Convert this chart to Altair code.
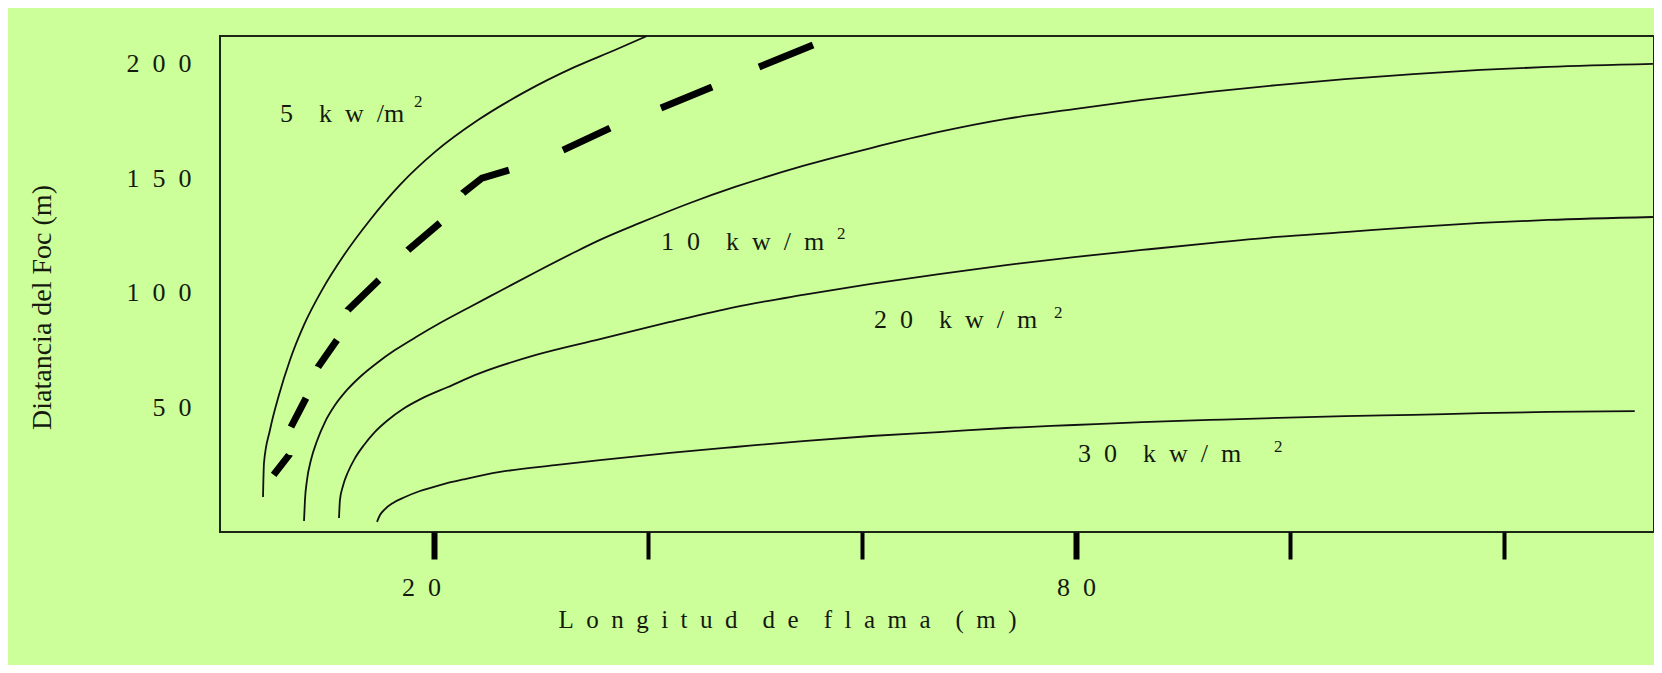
import altair as alt
import pandas as pd

# ---- curve data (x: Longitud de flama, y: Distancia del foc) ----
x5 = [4.02, 4.11, 4.67, 5.51, 6.54, 7.85, 9.53, 11.59, 14.02, 16.82, 20.09, 24.11, 28.50, 33.17, 36.91, 39.90]
y5 = [10.8, 25.6, 40.0, 55.3, 70.6, 85.9, 101.1, 116.4, 131.7, 147.0, 161.4, 175.3, 187.6, 198.5, 205.9, 212.0]

x10 = [7.85, 7.94, 8.13, 8.50, 9.06, 9.81, 10.75, 11.87, 13.18, 14.67, 16.35, 18.32, 20.56, 23.18, 26.17,
       29.53, 33.17, 35.51, 39.25, 43.92, 48.13, 54.48, 60.84, 67.19, 73.45, 79.81, 86.16, 92.52, 98.78,
       105.1, 111.5, 117.8, 124.1, 133.9]
y10 = [0.3, 9.5, 18.2, 26.9, 35.2, 43.5, 50.9, 57.5, 63.6, 69.3, 74.9, 80.6, 86.7, 93.3, 100.7,
       109.0, 117.7, 123.0, 130.4, 139.1, 146.1, 155.3, 163.1, 170.1, 175.8, 180.1, 184.1, 187.6, 190.6,
       193.2, 195.4, 197.2, 198.5, 199.8]

x20 = [11.12, 11.21, 11.49, 11.96, 12.62, 13.46, 14.48, 15.70, 17.10, 18.78, 21.31, 24.11, 29.53, 35.51,
       42.05, 48.13, 54.48, 60.84, 67.19, 73.45, 79.81, 86.16, 92.52, 98.78, 105.1, 111.5, 117.8, 124.1, 133.9]
y20 = [1.6, 9.5, 15.6, 21.7, 27.8, 33.5, 39.2, 44.4, 49.2, 53.6, 58.8, 64.5, 72.8, 79.7,
       87.2, 93.7, 99.0, 103.8, 108.1, 112.0, 115.5, 118.6, 121.6, 124.3, 126.4, 128.6, 130.4, 131.7, 133.0]

x30 = [14.67, 14.95, 15.42, 16.17, 17.29, 18.69, 20.56, 22.90, 26.17, 31.31, 35.51, 42.05, 48.13, 54.48,
       60.84, 67.19, 73.45, 79.81, 86.16, 92.52, 98.78, 105.1, 111.5, 117.8, 124.1, 132.2]
y30 = [-0.1, 2.9, 5.5, 8.2, 10.8, 13.4, 16.0, 18.6, 21.7, 24.7, 26.9, 30.0, 32.6, 35.2,
       37.4, 39.1, 40.9, 42.2, 43.5, 44.4, 45.3, 46.1, 46.6, 47.4, 47.9, 48.3]

# thick dashed curve: points at each dash end, and the dash / gap lengths seen on the picture
xdash = [5.01, 6.45, 6.63, 8.04, 9.16, 10.93, 11.96, 14.86, 17.57, 20.56, 22.71, 24.48, 27.01,
         32.05, 36.45, 41.21, 45.98, 50.37, 55.42]
ydash = [20.4, 29.1, 41.3, 54.0, 67.5, 79.3, 92.4, 105.5, 118.6, 130.4, 143.5, 150.0, 153.5,
         162.2, 171.8, 180.6, 189.7, 198.5, 208.1]
dash_pattern = [25.2, 28.1, 32.6, 33.2, 33.0, 32.0, 43.1, 41.7, 41.9, 37.8, 52.4, 57.6,
                51.9, 54.8, 55.2, 51.1, 58.3, 200]

# ---- curve labels ----
E = "\u2002"
label_text = ["5" + E + E + "k" + E + "w" + E + "/m",
              "1" + E + "0" + E + E + "k" + E + "w" + E + "/" + E + "m",
              "2" + E + "0" + E + E + "k" + E + "w" + E + "/" + E + "m",
              "3" + E + "0" + E + E + "k" + E + "w" + E + "/" + E + "m"]
label_x = [5.61, 41.21, 61.12, 80.18]
label_y = [174.5, 118.6, 84.5, 26.1]
sup_x = [18.13, 57.66, 77.94, 98.50]
sup_y = [181.0, 123.4, 88.9, 30.4]

x_ticks = [20, 40, 60, 80, 100, 120]
y_ticks = [50, 100, 150, 200]
x_title = (E.join("Longitud") + E * 2 + E.join("de") + E * 2 + E.join("flama") + E * 2 + E.join("(m)"))
y_title = "Diatancia del Foc (m)"

FONT = "Liberation Serif"
INK = "#141a0e"

rows = []
for name, xs, ys in [("5", x5, y5), ("10", x10, y10), ("20", x20, y20), ("30", x30, y30)]:
    for i, (a, b) in enumerate(zip(xs, ys)):
        rows.append({"serie": name, "i": i, "x": a, "y": b})
solid_df = pd.DataFrame(rows)
dash_df = pd.DataFrame({"i": list(range(len(xdash))), "x": xdash, "y": ydash})
lab_df = pd.DataFrame({"txt": label_text, "x": label_x, "y": label_y})
sup_df = pd.DataFrame({"txt": ["2"] * 4, "x": sup_x, "y": sup_y})

x_axis = alt.Axis(
    values=x_ticks, domain=False, grid=False, ticks=True, tickColor="#000", tickSize=27,
    tickWidth={"condition": {"test": "datum.value == 20 || datum.value == 80", "value": 6}, "value": 4},
    labelExpr="(datum.value == 20 || datum.value == 80) ? join(split(datum.label, ''), '" + E + "') : ''",
    labelOffset={"condition": {"test": "datum.value == 20", "value": -13}, "value": 0},
    labelFont=FONT, labelFontSize=26, labelColor=INK, labelPadding=36, labelBaseline="alphabetic",
    labelFlush=False, labelOverlap=False,
    title=x_title, titleFont=FONT, titleFontSize=25, titleFontWeight="normal", titleColor=INK,
    titleX=567, titleY=95, titleBaseline="alphabetic", titleAlign="center", titleAnchor="middle",
)
y_axis = alt.Axis(
    values=y_ticks, domain=False, grid=False, ticks=False, tickSize=0,
    labelExpr="join(split(datum.label, ''), '" + E + "')",
    labelFont=FONT, labelFontSize=26, labelColor=INK, labelPadding=29, labelBaseline="middle",
    labelFlush=False, labelOverlap=False,
    title=y_title, titleFont=FONT, titleFontSize=28, titleFontWeight="normal", titleColor=INK,
    titleAngle=270, titleX=-170, titleY=271, titleBaseline="alphabetic", titleAlign="center",
)
xs_ = alt.Scale(domain=[0, 134], nice=False, zero=False)
ys_ = alt.Scale(domain=[-4.5, 212], nice=False, zero=False)
X = alt.X("x:Q", scale=xs_, axis=x_axis)
Y = alt.Y("y:Q", scale=ys_, axis=y_axis)

solid = alt.Chart(solid_df).mark_line(
    color="#111", strokeWidth=1.8, interpolate="monotone", clip=True
).encode(x=X, y=Y, detail="serie:N", order="i:Q")

dashed = alt.Chart(dash_df).mark_line(
    color="#000", strokeWidth=7, strokeDash=dash_pattern, strokeCap="butt", interpolate="linear", clip=True
).encode(x=X, y=Y, order="i:Q")

labels = alt.Chart(lab_df).mark_text(
    font=FONT, fontSize=26, color=INK, align="left", baseline="alphabetic"
).encode(x=X, y=Y, text="txt:N")

sups = alt.Chart(sup_df).mark_text(
    font=FONT, fontSize=17, color=INK, align="left", baseline="alphabetic"
).encode(x=X, y=Y, text="txt:N")

chart = alt.layer(solid, dashed, labels, sups).properties(
    width=1434, height=496,
    padding={"left": 212, "top": 28, "right": 0, "bottom": 133},
    autosize=alt.AutoSizeParams(type="none"),
    background="#ccff99",
).configure_view(stroke="#1c2614", strokeWidth=2)

chart.save("out.html", embed_options={"renderer": "svg", "actions": False})
